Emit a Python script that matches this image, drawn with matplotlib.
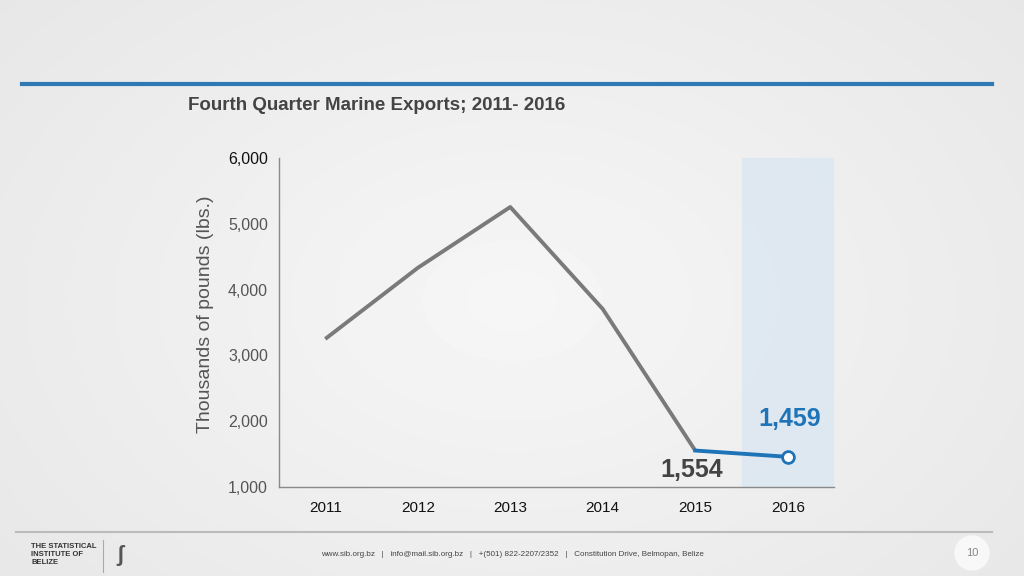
import numpy as np
from matplotlib import pyplot as plt
from matplotlib.patches import Ellipse

years = [2011, 2012, 2013, 2014, 2015, 2016]
exports = [3250, 4330, 5255, 3705, 1554, 1459]
y_ticks = [1000, 2000, 3000, 4000, 5000, 6000]
y_tick_labels = ['1,000', '2,000', '3,000', '4,000', '5,000', '6,000']

plt.rcParams['font.family'] = ['Liberation Sans', 'DejaVu Sans']

fig = plt.figure(figsize=(10.24, 5.76), dpi=100)

# soft radial background
bg = fig.add_axes([0, 0, 1, 1], zorder=-10)
yy, xx = np.mgrid[0:576, 0:1024]
r = np.sqrt(((xx - 512) / 620.0) ** 2 + ((yy - 300) / 420.0) ** 2)
shade = 0.965 - 0.055 * np.clip(r, 0, 1.3)
bg.imshow(shade, cmap='gray', vmin=0, vmax=1, aspect='auto', extent=[0, 1, 0, 1])
bg.set_xlim(0, 1)
bg.set_ylim(0, 1)
bg.axis('off')

# header rule and title
fig.add_artist(plt.Line2D([22 / 1024, 992 / 1024], [1 - 84 / 576] * 2,
                          color='#2f7ab5', lw=3))
fig.text(188 / 1024, 1 - 106 / 576, 'Fourth Quarter Marine Exports; 2011- 2016',
         fontsize=13.5, fontweight='bold', color='#444444', va='center')

ax = fig.add_axes([279 / 1024, 1 - 487 / 576, 555 / 1024, 329 / 576])
ax.patch.set_alpha(0)
ax.axvspan(2015.5, 2016.5, color='#dbe7f1', alpha=0.8, lw=0, zorder=0)

ax.plot(years[:5], exports[:5], color='#7a7a7a', lw=2.8, zorder=2,
        solid_capstyle='butt')
ax.plot(years[4:], exports[4:], color='#1f74b8', lw=2.8, zorder=3)
ax.plot(years[5], exports[5], 'o', ms=8.5, mfc='white', mec='#1f74b8',
        mew=2, zorder=4)

ax.text(years[4] - 0.04, exports[4] - 296, '{:,}'.format(exports[4]), fontsize=18,
        fontweight='bold', color='#444444', ha='center', va='center')
ax.text(years[5] + 0.02, exports[5] + 580, '{:,}'.format(exports[5]), fontsize=18,
        fontweight='bold', color='#1f74b8', ha='center', va='center')

ax.set_xlim(2010.5, 2016.5)
ax.set_ylim(1000, 6000)
ax.set_xticks(years)
ax.set_xticklabels([str(y) for y in years], fontsize=11, color='#111111')
ax.set_yticks(y_ticks)
ax.set_yticklabels(y_tick_labels, fontsize=11.5, color='#555555')
ax.get_yticklabels()[-1].set_color('#111111')
ax.tick_params(length=0, pad=8)
ax.tick_params(axis='x', pad=10)
for s in ['top', 'right']:
    ax.spines[s].set_visible(False)
for s in ['left', 'bottom']:
    ax.spines[s].set_color('#8a8a8a')
    ax.spines[s].set_linewidth(1)
fig.text(205 / 1024, 1 - 314 / 576, 'Thousands of pounds (lbs.)', fontsize=14,
         color='#555555', rotation=90, ha='center', va='center')

# footer
fig.add_artist(plt.Line2D([16 / 1024, 992 / 1024], [1 - 532 / 576] * 2,
                          color='#bbbbbb', lw=1.5))
fig.text(31 / 1024, 1 - 554 / 576, 'THE STATISTICAL\nINSTITUTE OF\nBELIZE',
         fontsize=5.5, fontweight='bold', color='#333333', va='center',
         linespacing=1.2)
fig.add_artist(plt.Line2D([103 / 1024, 103 / 1024], [1 - 572 / 576, 1 - 540 / 576],
                          color='#aaaaaa', lw=0.8))
fig.text(120 / 1024, 1 - 556 / 576, 'ʃ', fontsize=16, fontweight='bold',
         color='#555555', ha='center', va='center')
fig.text(512 / 1024, 1 - 554 / 576,
         'www.sib.org.bz   |   info@mail.sib.org.bz   |   +(501) 822-2207/2352   |   '
         'Constitution Drive, Belmopan, Belize',
         fontsize=5.8, color='#444444', ha='center', va='center')
fig.add_artist(Ellipse((972 / 1024, 1 - 553 / 576), 34 / 1024, 34 / 576,
                       color='#f8f8f8', transform=fig.transFigure))
fig.text(972 / 1024, 1 - 553 / 576, '10', fontsize=8, color='#888888',
         ha='center', va='center')

fig.savefig('out.png', dpi=100)
